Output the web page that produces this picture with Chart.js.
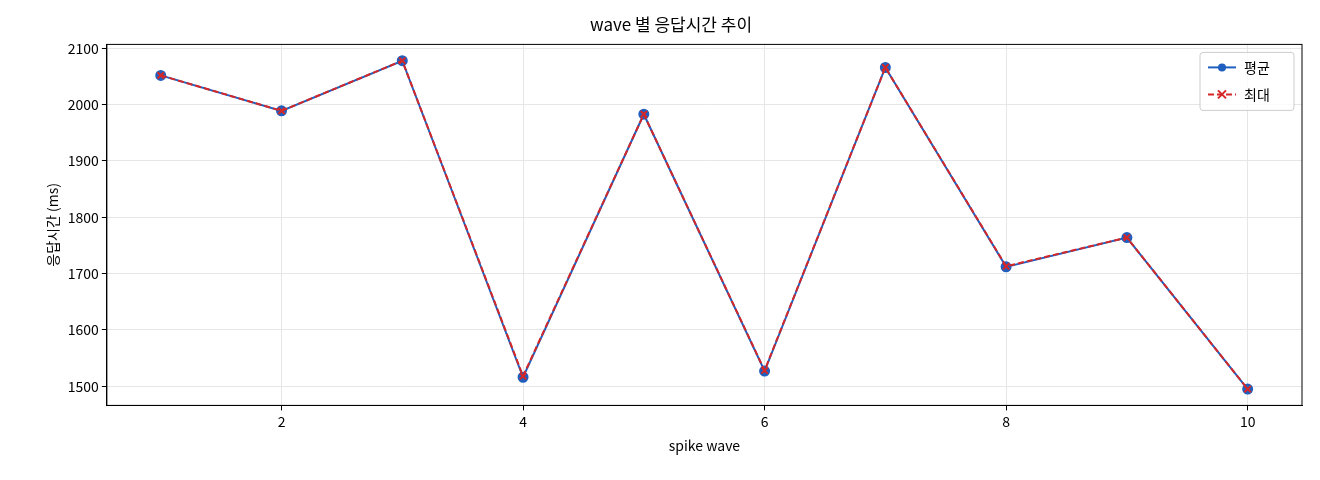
<!DOCTYPE html>
<html><head><meta charset="utf-8">
<script src="https://cdn.jsdelivr.net/npm/chart.js@4/dist/chart.umd.min.js"></script>
<style>body{margin:0;background:#fff}#w{width:1320px;height:480px}</style>
</head><body><div id="w"><canvas id="c"></canvas></div>
<script>
const waves=[1,2,3,4,5,6,7,8,9,10];
const avgMs=[2052,1989,2078,1516,1983,1527,2066,1712,1764,1495];
const maxMs=[2052,1989,2078,1518,1983,1528,2066,1713,1764,1495];
const yTicks=[1500,1600,1700,1800,1900,2000,2100];
const F="'Noto Sans CJK KR','DejaVu Sans',sans-serif";
const legendPlugin={id:'lg',afterDraw(ch){
  const a=ch.chartArea,c=ch.ctx;
  c.save();c.strokeStyle='#000';c.lineWidth=1;c.strokeRect(a.left,a.top,a.right-a.left,a.bottom-a.top);
  const x=a.right-102,y=a.top+8,w=94,h=58;
  c.fillStyle='rgba(255,255,255,0.8)';c.strokeStyle='#ccc';
  c.beginPath();c.roundRect(x,y,w,h,3);c.fill();c.stroke();
  ch.data.datasets.forEach((d,i)=>{const ly=y+15+i*27;
    c.strokeStyle=d.borderColor;c.lineWidth=2;c.setLineDash(d.borderDash||[]);
    c.beginPath();c.moveTo(x+8,ly);c.lineTo(x+36,ly);c.stroke();c.setLineDash([]);
    if(i==0){c.fillStyle=d.borderColor;c.beginPath();c.arc(x+22,ly,4,0,7);c.fill();}
    else{c.beginPath();c.moveTo(x+18,ly-4);c.lineTo(x+26,ly+4);c.moveTo(x+26,ly-4);c.lineTo(x+18,ly+4);c.stroke();}
    c.fillStyle='#000';c.font='14px '+F;c.textBaseline='middle';c.fillText(d.label,x+44,ly);});
  c.restore();}};
new Chart(document.getElementById('c'),{type:'line',
data:{datasets:[
 {label:'평균',order:2,data:waves.map((x,i)=>({x,y:avgMs[i]})),borderColor:'#1f5fbf',backgroundColor:'#1f5fbf',borderWidth:2,pointRadius:4.5,pointHoverRadius:4.5},
 {label:'최대',order:1,data:waves.map((x,i)=>({x,y:maxMs[i]})),borderColor:'#d62728',backgroundColor:'#d62728',borderWidth:2,borderDash:[6,3],pointStyle:'crossRot',pointRadius:4.5,pointBorderWidth:2}
]},
plugins:[legendPlugin],
options:{responsive:true,maintainAspectRatio:false,animation:false,
 layout:{padding:{left:40,right:18,top:10,bottom:22}},
 plugins:{legend:{display:false},tooltip:{enabled:false},
  title:{display:true,text:'wave 별 응답시간 추이',color:'#000',font:{family:F,size:17,weight:'normal'},padding:{top:4,bottom:10}}},
 scales:{
  x:{type:'linear',min:0.554,max:10.45,border:{color:'#000'},grid:{color:'#e6e6e6',tickColor:'#000',tickLength:5},
   afterBuildTicks(s){s.ticks=[2,4,6,8,10].map(v=>({value:v}));},
   ticks:{color:'#000',font:{family:F,size:14},callback:v=>String(v)},
   title:{display:true,text:'spike wave',color:'#000',font:{family:F,size:14}}},
  y:{min:1466,max:2107,border:{color:'#000'},grid:{color:'#e6e6e6',tickColor:'#000',tickLength:5},
   afterBuildTicks(s){s.ticks=yTicks.map(v=>({value:v}));},
   ticks:{color:'#000',font:{family:F,size:14},callback:v=>String(v)},
   title:{display:true,text:'응답시간 (ms)',color:'#000',font:{family:F,size:14}}}}}});
</script></body></html>
